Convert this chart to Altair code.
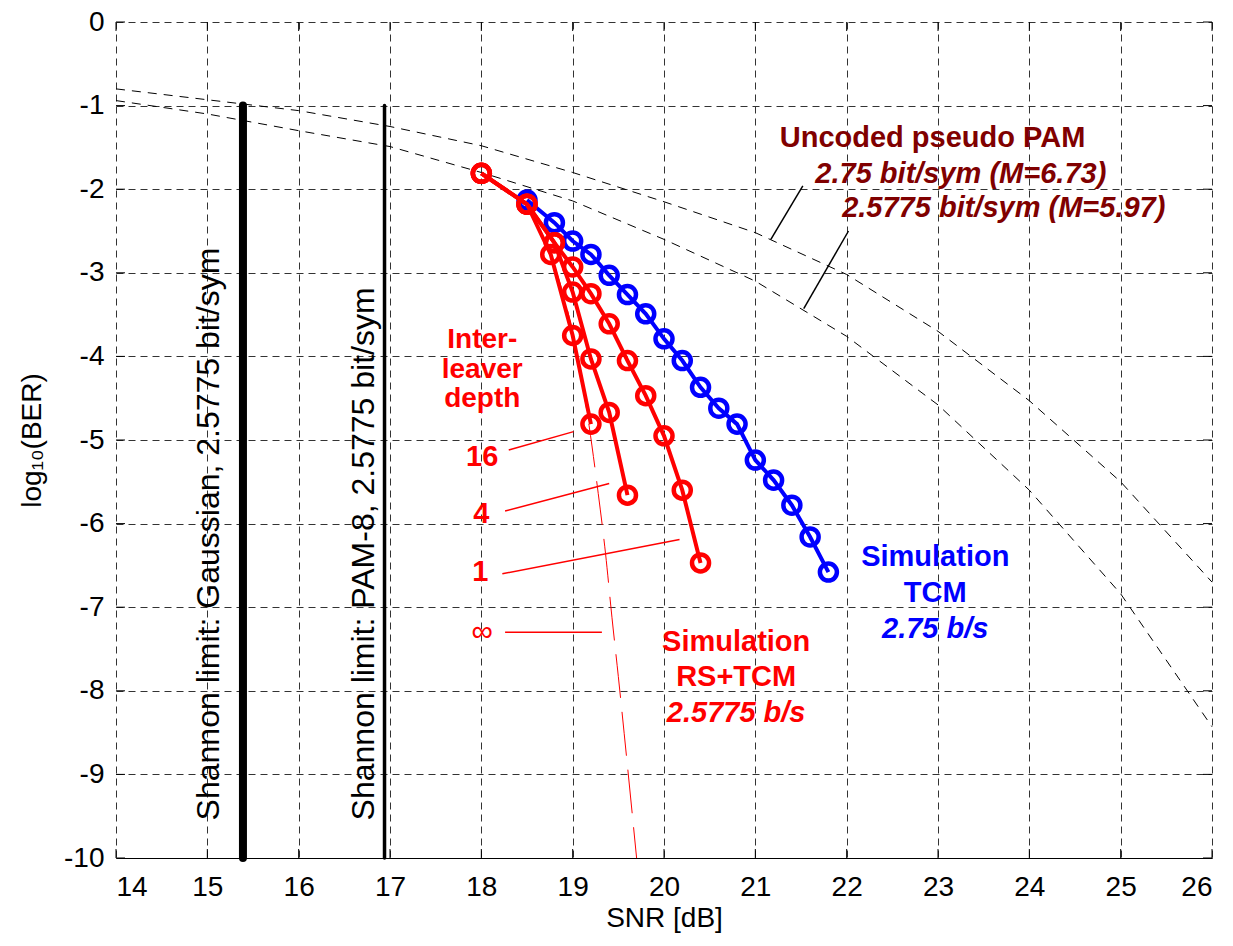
import altair as alt
import pandas as pd

FONT = "Liberation Sans, Arial, sans-serif"

# ---------------- data ----------------
uncoded_snr = [14, 15, 16, 17, 18, 19, 20, 21, 22, 23, 24, 25, 26]
uncoded_275 = [-0.80, -0.93, -1.06, -1.25, -1.48, -1.80, -2.15, -2.52, -3.02, -3.70, -4.53, -5.50, -6.70]
uncoded_25775 = [-0.94, -1.10, -1.30, -1.49, -1.80, -2.14, -2.60, -3.10, -3.76, -4.58, -5.60, -6.84, -8.43]

tcm_snr = [18.5, 18.8, 19.0, 19.2, 19.4, 19.6, 19.8, 20.0, 20.2, 20.4, 20.6, 20.8, 21.0, 21.2, 21.4, 21.6, 21.8]
tcm_ber = [-2.13, -2.40, -2.62, -2.78, -3.03, -3.26, -3.49, -3.79, -4.05, -4.37, -4.62, -4.81, -5.24, -5.48, -5.78, -6.16, -6.58]

rs1_snr = [18.0, 18.5, 18.8, 19.0, 19.2, 19.4, 19.6, 19.8, 20.0, 20.2, 20.4]
rs1_ber = [-1.81, -2.18, -2.64, -2.93, -3.25, -3.61, -4.05, -4.47, -4.95, -5.60, -6.47]
rs4_snr = [18.0, 18.5, 18.8, 19.0, 19.2, 19.4, 19.6]
rs4_ber = [-1.81, -2.18, -2.64, -3.23, -4.03, -4.67, -5.66]
rs16_snr = [18.0, 18.5, 18.76, 19.0, 19.2]
rs16_ber = [-1.81, -2.18, -2.78, -3.75, -4.81]
rsinf_snr = [18.76, 19.0, 19.18, 19.28, 19.36, 19.43, 19.50, 19.60, 19.70]
rsinf_ber = [-2.78, -3.72, -4.83, -5.64, -6.36, -7.12, -7.83, -8.90, -10.0]

shannon_snr = [15.39, 16.94]
shannon_width = [8, 3.5]
shannon_top = [-1.0, -1.0]
shannon_bottom = [-10.0, -10.0]

# annotation leader lines (data units)
red_ann_x1 = [18.30, 18.26, 18.23, 18.26]
red_ann_y1 = [-5.12, -5.85, -6.60, -7.30]
red_ann_x2 = [19.01, 19.40, 20.17, 19.32]
red_ann_y2 = [-4.90, -5.52, -6.19, -7.30]
blk_ann_x1 = [21.52, 22.02]
blk_ann_y1 = [-1.96, -2.50]
blk_ann_x2 = [21.17, 21.53]
blk_ann_y2 = [-2.60, -3.43]

x_ticks = list(range(14, 27))
y_ticks = list(range(-10, 1))

# text labels
bold_text = ["Uncoded pseudo PAM", "16", "4", "1",
             "Simulation", "RS+TCM", "Simulation", "TCM"]
bold_x = [22.94, 18.01, 18.00, 17.99, 20.79, 20.79, 22.97, 22.97]
bold_y = [-1.39, -5.20, -5.88, -6.58, -7.42, -7.83, -6.40, -6.83]
bold_col = ["#800000", "#ff0000", "#ff0000", "#ff0000",
            "#ff0000", "#ff0000", "#0000ff", "#0000ff"]

depth_text = ["Inter-", "leaver", "depth"]
depth_x = [18.01, 18.01, 18.01]
depth_y = [-3.80, -4.16, -4.51]

bi_text = ["2.75 bit/sym (M=6.73)", "2.5775 bit/sym (M=5.97)", "2.5775 b/s", "2.75 b/s"]
bi_x = [23.25, 23.72, 20.79, 22.97]
bi_y = [-1.82, -2.22, -8.26, -7.26]
bi_col = ["#800000", "#800000", "#ff0000", "#0000ff"]

reg_text = ["\u221e"]
reg_x = [18.01]
reg_y = [-7.30]
reg_col = ["#ff0000"]

rot_text = ["Shannon limit: Gaussian, 2.5775 bit/sym", "Shannon limit:  PAM-8, 2.5775 bit/sym"]
rot_x = [15.13, 16.83]
rot_y = [-9.55, -9.55]

W, H = 1096, 836

# ---------------- frames ----------------
unc_df = pd.DataFrame({
    "snr": uncoded_snr * 2,
    "ber": uncoded_275 + uncoded_25775,
    "s": ["2.75"] * len(uncoded_snr) + ["2.5775"] * len(uncoded_snr),
})
tcm_df = pd.DataFrame({"snr": tcm_snr, "ber": tcm_ber})
rs_df = pd.DataFrame({
    "snr": rs1_snr + rs4_snr + rs16_snr,
    "ber": rs1_ber + rs4_ber + rs16_ber,
    "depth": ["1"] * len(rs1_snr) + ["4"] * len(rs4_snr) + ["16"] * len(rs16_snr),
})
inf_df = pd.DataFrame({"snr": rsinf_snr, "ber": rsinf_ber})
sh_df = pd.DataFrame({"snr": shannon_snr, "ber": shannon_top, "ber2": shannon_bottom, "w": shannon_width})
red_ann = pd.DataFrame({"snr": red_ann_x1, "ber": red_ann_y1, "snr2": red_ann_x2, "ber2": red_ann_y2})
blk_ann = pd.DataFrame({"snr": blk_ann_x1, "ber": blk_ann_y1, "snr2": blk_ann_x2, "ber2": blk_ann_y2})
xt_df = pd.DataFrame({"snr": x_ticks})
yt_df = pd.DataFrame({"ber": y_ticks})
bold_df = pd.DataFrame({"snr": bold_x, "ber": bold_y, "t": bold_text, "c": bold_col})
depth_df = pd.DataFrame({"snr": depth_x, "ber": depth_y, "t": depth_text})
bi_df = pd.DataFrame({"snr": bi_x, "ber": bi_y, "t": bi_text, "c": bi_col})
reg_df = pd.DataFrame({"snr": reg_x, "ber": reg_y, "t": reg_text, "c": reg_col})
rot_df = pd.DataFrame({"snr": rot_x, "ber": rot_y, "t": rot_text})

X = alt.X("snr:Q",
          scale=alt.Scale(domain=[14, 26], nice=False, zero=False),
          axis=alt.Axis(values=x_ticks, title="SNR [dB]", grid=True, gridDash=[7, 5],
                        gridColor="#333333", gridWidth=1, gridOpacity=1,
                        ticks=False, domain=True, domainColor="black", domainWidth=1.2,
                        labelFont=FONT, labelFontSize=28, labelColor="black", labelPadding=15,
                        titleFont=FONT, titleFontSize=28, titleFontWeight="normal",
                        titleColor="black", titleY=68, titleBaseline="alphabetic"))
Y = alt.Y("ber:Q",
          scale=alt.Scale(domain=[-10, 0], nice=False, zero=False),
          axis=alt.Axis(values=y_ticks, title="log\u2081\u2080(BER)", grid=True, gridDash=[7, 5],
                        gridColor="#333333", gridWidth=1, gridOpacity=1,
                        ticks=False, domain=False,
                        labelExpr="(datum.value < 0 ? '-' : '') + abs(datum.value)",
                        labelFont=FONT, labelFontSize=28, labelColor="black", labelPadding=12,
                        titleFont=FONT, titleFontSize=28, titleFontWeight="normal",
                        titleColor="black", titleX=-84, titleY=H / 2, titleAngle=270,
                        titleBaseline="middle", titleAlign="center"))

uncoded = alt.Chart(unc_df).mark_line(color="black", strokeWidth=1, strokeDash=[9, 7]).encode(
    x=X, y=Y, detail="s:N")

shannon = alt.Chart(sh_df).mark_rule(color="black", strokeCap="round").encode(
    x=X, y=Y, y2="ber2:Q", strokeWidth=alt.StrokeWidth("w:Q", scale=None))

tcm_line = alt.Chart(tcm_df).mark_line(color="#0000ff", strokeWidth=4).encode(x=X, y=Y)
tcm_pts = alt.Chart(tcm_df).mark_point(shape="circle", filled=False, size=290, strokeWidth=4.5,
                                       color="#0000ff", opacity=1).encode(x=X, y=Y)

rs_line = alt.Chart(rs_df).mark_line(color="#ff0000", strokeWidth=4).encode(x=X, y=Y, detail="depth:N")
rs_pts = alt.Chart(rs_df).mark_point(shape="circle", filled=False, size=290, strokeWidth=4.5,
                                     color="#ff0000", opacity=1).encode(x=X, y=Y)
inf_line = alt.Chart(inf_df).mark_line(color="#ff0000", strokeWidth=1, strokeDash=[44, 14],
                                       interpolate="monotone").encode(x=X, y=Y)

red_lines = alt.Chart(red_ann).mark_rule(color="#ff0000", strokeWidth=1.5).encode(
    x=X, y=Y, x2="snr2:Q", y2="ber2:Q")
blk_lines = alt.Chart(blk_ann).mark_rule(color="black", strokeWidth=1.5).encode(
    x=X, y=Y, x2="snr2:Q", y2="ber2:Q")

tick_b = alt.Chart(xt_df).mark_rule(color="black", strokeWidth=1).encode(
    x=X, y=alt.value(H), y2=alt.value(H - 9))
tick_t = alt.Chart(xt_df).mark_rule(color="black", strokeWidth=1).encode(
    x=X, y=alt.value(0), y2=alt.value(9))
tick_l = alt.Chart(yt_df).mark_rule(color="black", strokeWidth=1).encode(
    y=Y, x=alt.value(0), x2=alt.value(9))
tick_r = alt.Chart(yt_df).mark_rule(color="black", strokeWidth=1).encode(
    y=Y, x=alt.value(W), x2=alt.value(W - 9))

bold_lbl = alt.Chart(bold_df).mark_text(font=FONT, fontSize=29, fontWeight="bold",
                                        align="center", baseline="middle").encode(
    x=X, y=Y, text="t:N", color=alt.Color("c:N", scale=None))
depth_lbl = alt.Chart(depth_df).mark_text(font=FONT, fontSize=28, fontWeight="bold",
                                          align="center", baseline="middle", color="#ff0000").encode(
    x=X, y=Y, text="t:N")
bi_lbl = alt.Chart(bi_df).mark_text(font=FONT, fontSize=29, fontWeight="bold", fontStyle="italic",
                                    align="center", baseline="middle").encode(
    x=X, y=Y, text="t:N", color=alt.Color("c:N", scale=None))
reg_lbl = alt.Chart(reg_df).mark_text(font=FONT, fontSize=30, align="center", baseline="middle").encode(
    x=X, y=Y, text="t:N", color=alt.Color("c:N", scale=None))
rot_lbl = alt.Chart(rot_df).mark_text(font=FONT, fontSize=32, angle=270, align="left",
                                      baseline="alphabetic", color="black").encode(
    x=X, y=Y, text="t:N")

chart = alt.layer(
    uncoded, shannon, tick_b, tick_t, tick_l, tick_r,
    tcm_line, tcm_pts, rs_line, rs_pts, inf_line,
    red_lines, blk_lines, bold_lbl, depth_lbl, bi_lbl, reg_lbl, rot_lbl,
).properties(
    width=W, height=H,
    padding={"left": 108, "top": 14, "right": 10, "bottom": 75},
    autosize=alt.AutoSizeParams(type="none"),
    background="white",
).configure_view(stroke=None)

chart.save("out.html", embed_options={"renderer": "svg", "actions": False})
